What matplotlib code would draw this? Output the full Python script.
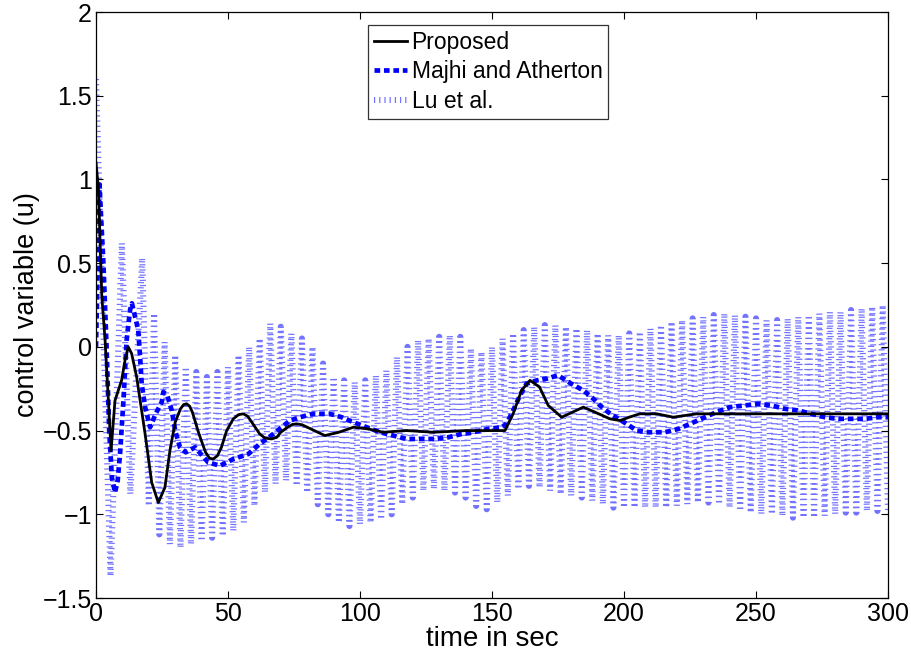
import numpy as np
import matplotlib
matplotlib.use("Agg")
import matplotlib.pyplot as plt

plt.rcParams['font.family'] = ['Liberation Sans', 'DejaVu Sans']
narrow = ['Liberation Sans Narrow', 'Liberation Sans', 'DejaVu Sans']

# Proposed controller output
prop_t = [0, 0.9, 2.2, 3.4, 4.7, 5.7, 7.2, 9.7, 11, 12.2, 13.5, 15.4, 18.6, 21.1, 23.6,
          26.1, 28, 30, 32, 33.2, 34.3, 35.5, 36.5, 39, 41.5, 43, 44.4, 46, 47.5, 49.5,
          52, 54, 55.8, 57.5, 59, 62, 64, 66.5, 68.5, 70, 73, 74.5, 76, 78, 80, 86.7,
          92, 97.5, 103, 108.8, 117.7, 127.8, 140.4, 154.9, 158, 161.2, 164.4, 168,
          171.3, 176.4, 180.5, 184.6, 189, 194.7, 198.5, 202, 206, 212.4, 218.7, 227.5,
          247.7, 300]
prop_u = [1.1, 0.95, 0.3, 0.05, -0.32, -0.62, -0.32, -0.2, -0.08, 0.0, -0.04, -0.18, -0.52,
          -0.81, -0.93, -0.84, -0.62, -0.45, -0.37, -0.345, -0.34, -0.355, -0.39, -0.52,
          -0.63, -0.665, -0.67, -0.65, -0.6, -0.5, -0.43, -0.405, -0.40, -0.415, -0.45,
          -0.52, -0.545, -0.55, -0.54, -0.51, -0.475, -0.463, -0.46, -0.465, -0.48,
          -0.53, -0.51, -0.48, -0.49, -0.51, -0.50, -0.51, -0.50, -0.50, -0.40, -0.26,
          -0.20, -0.24, -0.35, -0.42, -0.39, -0.36, -0.39, -0.43, -0.44, -0.42, -0.40,
          -0.40, -0.42, -0.40, -0.40, -0.40]

# Majhi and Atherton
maj_t = [0, 1.3, 2.8, 4, 5, 6, 7.2, 8.2, 9.1, 10.4, 11.6, 12.9, 13.6, 14.5, 16, 16.7,
         17.3, 18.6, 20.5, 22.6, 24.9, 25.5, 27, 28.7, 30, 31.8, 34, 37.5, 42.5, 47,
         52, 57.7, 62, 67.2, 73.5, 77.3, 82.3, 88.6, 93, 97.5, 102.5, 107.6, 112.6,
         117.7, 123.4, 128.4, 133.5, 138.5, 142.9, 148.6, 153.7, 155.5, 158, 160.6,
         163.1, 167, 170.7, 175, 180, 184.6, 188.4, 190.9, 194, 197.9, 201, 204.8,
         209.2, 215.5, 220.6, 225, 230.7, 235, 240.2, 245.8, 250.9, 255.9, 261, 266,
         271, 276, 281.2, 286.2, 291.3, 296.3, 300]
maj_u = [0.0, 0.97, 0.5, 0.0, -0.5, -0.78, -0.87, -0.8, -0.64, -0.32, 0.04, 0.22, 0.26,
         0.2, 0.1, -0.06, -0.22, -0.36, -0.48, -0.40, -0.33, -0.27, -0.29, -0.38, -0.5,
         -0.6, -0.63, -0.60, -0.69, -0.71, -0.67, -0.64, -0.58, -0.52, -0.44, -0.42,
         -0.40, -0.40, -0.42, -0.45, -0.48, -0.51, -0.53, -0.55, -0.55, -0.55, -0.54,
         -0.52, -0.51, -0.49, -0.48, -0.46, -0.38, -0.29, -0.22, -0.20, -0.19, -0.17,
         -0.22, -0.26, -0.31, -0.35, -0.39, -0.43, -0.46, -0.50, -0.51, -0.51, -0.49,
         -0.46, -0.42, -0.39, -0.36, -0.35, -0.34, -0.35, -0.37, -0.38, -0.40, -0.42,
         -0.43, -0.43, -0.43, -0.42, -0.42]

# Lu et al.: fast oscillation, first few swings then peaks/troughs every 2 s
lu_start_t = [0, 5.5, 9.8, 13, 17.5]
lu_start_u = [1.6, -1.37, 0.62, -0.88, 0.53]
# troughs at t = 20, 24, ..., 300
lu_low = [-0.95, -1.12, -1.18, -1.2, -1.18, -1.16, -1.14, -1.13, -1.1, -1.05,
          -0.95, -0.87, -0.82, -0.8, -0.83, -0.87, -0.94, -1.0, -1.05, -1.07,
          -1.06, -1.05, -1.03, -1.0, -0.94, -0.9, -0.86, -0.85, -0.86, -0.87,
          -0.9, -0.95, -0.97, -0.93, -0.89, -0.85, -0.83, -0.84, -0.86, -0.88,
          -0.89, -0.9, -0.92, -0.94, -0.96, -0.96, -0.96, -0.96, -0.96, -0.96,
          -0.95, -0.94, -0.93, -0.93, -0.94, -0.96, -0.98, -0.99, -1.0, -1.0,
          -1.01, -1.02, -1.02, -1.02, -1.01, -1.0, -0.99, -0.99, -0.98, -0.98, -0.98]
# peaks at t = 22, 26, ..., 298
lu_high = [0.2, 0.03, -0.05, -0.12, -0.15, -0.18, -0.15, -0.12, -0.05, 0.0,
           0.05, 0.14, 0.12, 0.08, 0.05, 0.0, -0.1, -0.18, -0.2, -0.21,
           -0.2, -0.17, -0.14, -0.06, 0.0, 0.04, 0.05, 0.06, 0.07, 0.06,
           -0.01, -0.03, 0.0, 0.05, 0.08, 0.1, 0.12, 0.13, 0.13, 0.12,
           0.11, 0.1, 0.08, 0.07, 0.07, 0.08, 0.09, 0.11, 0.13, 0.15,
           0.16, 0.17, 0.18, 0.19, 0.2, 0.19, 0.18, 0.17, 0.16, 0.16,
           0.17, 0.18, 0.19, 0.2, 0.21, 0.21, 0.22, 0.23, 0.24, 0.25]

lu_t = list(lu_start_t)
lu_u = list(lu_start_u)
for k in range(len(lu_low)):
    lu_t.append(20 + 4 * k)
    lu_u.append(lu_low[k])
    if k < len(lu_high):
        lu_t.append(22 + 4 * k)
        lu_u.append(lu_high[k])

fig = plt.figure(figsize=(9.11, 6.55), dpi=100)
ax = fig.add_axes([96 / 911, 57 / 655, 792 / 911, 586 / 655])

ax.plot(prop_t, prop_u, color='k', lw=2.0, label='Proposed', zorder=3)
ax.plot(maj_t, maj_u, color='#0000ff', lw=3.4, ls=(0, (1.2, 0.8)),
        label='Majhi and Atherton', zorder=2)
ax.plot(lu_t, lu_u, color='#0000ff', lw=4.4, ls=(0, (0.2, 0.65)),
        alpha=0.55, label='Lu et al.', zorder=1)

ax.set_xlim(0, 300)
ax.set_ylim(-1.5, 2)
ax.set_xticks(np.arange(0, 301, 50))
ax.set_yticks(np.arange(-1.5, 2.01, 0.5))
ax.set_yticklabels(['\u22121.5', '\u22121', '\u22120.5', '0', '0.5', '1', '1.5', '2'])
ax.tick_params(direction='in', length=5, width=0.8, top=True, right=True,
               colors='k', pad=3)
for lab in ax.get_xticklabels() + ax.get_yticklabels():
    lab.set_family(narrow)
    lab.set_fontsize(18)
for s in ax.spines.values():
    s.set_linewidth(0.9)

ax.set_xlabel('time in sec', fontsize=20, family=narrow, labelpad=0)
ax.set_ylabel('control variable (u)', fontsize=19.5, labelpad=2)

leg = ax.legend(loc='upper center', bbox_to_anchor=(0.495, 0.978), fontsize=16.5,
                frameon=True, fancybox=False, edgecolor='k', handlelength=1.45,
                handletextpad=0.2, borderpad=0.25, labelspacing=0.3,
                borderaxespad=0)
leg.get_frame().set_linewidth(0.9)

fig.savefig('out.png', dpi=100)
